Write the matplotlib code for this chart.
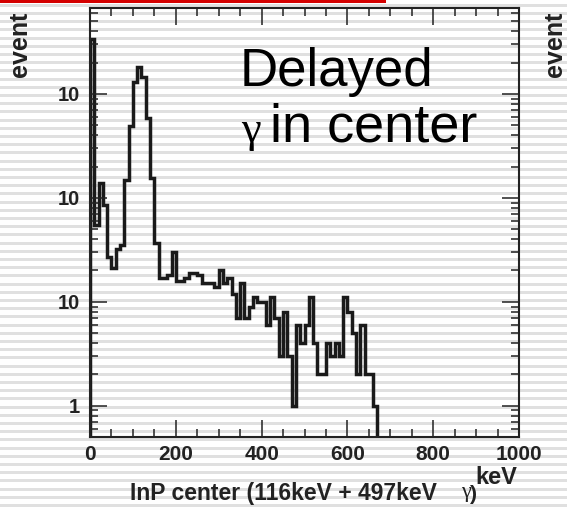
import numpy as np
import matplotlib.pyplot as plt
from matplotlib.ticker import FixedLocator, FixedFormatter, NullFormatter

plt.rcParams['font.family'] = ['Liberation Sans', 'DejaVu Sans']

# 10 keV bins, 0 .. 670 keV
bin_edges = list(range(0, 680, 10))
events = [3400, 55, 140, 86, 27, 21, 32, 35, 150, 490,
          1300, 1820, 1450, 590, 155, 37, 17, 17, 18, 30,
          16, 16, 17, 19, 19, 18, 15, 15, 15, 14,
          20, 15, 17, 12, 7, 15, 7, 9, 11, 10,
          10, 6, 11, 7, 3, 8, 3, 1, 6, 4,
          6, 11, 4, 2, 2, 4, 3, 4, 3, 11,
          8, 5, 2, 6, 2, 2, 1]

x_major = [0, 200, 400, 600, 800, 1000]
x_labels = ["0", "200", "400", "600", "800", "1000"]
y_major = [1, 10, 100, 1000]
y_labels = ["1", "10", "10", "10"]

W, H = 567, 507
def fx(px):
    return px / W
def fy(py):
    return 1 - py / H

fig = plt.figure(figsize=(W / 100, H / 100), dpi=100)

# striped slide background
bg = fig.add_axes([0, 0, 1, 1], zorder=-1)
bg.set_xlim(0, W)
bg.set_ylim(H, 0)
bg.axis('off')
for y0 in np.arange(3.8, H, 8.2):
    bg.axhspan(y0, y0 + 3.0, color='#e0e0e0', lw=0)
bg.axhspan(0, 3, xmin=0, xmax=386 / W, color='#d40000', lw=0)

ax = fig.add_axes([fx(90), fy(437), (519 - 90) / W, (437 - 8) / H])
ax.patch.set_alpha(0)
ax.stairs(events, bin_edges, baseline=0.1, color='#1a1a1a', lw=2.5)
ax.set_yscale('log')
ax.set_xlim(0, 1000)
ax.set_ylim(0.5, 6700)

ax.xaxis.set_major_locator(FixedLocator(x_major))
ax.xaxis.set_major_formatter(FixedFormatter(x_labels))
ax.xaxis.set_minor_locator(FixedLocator(np.arange(0, 1001, 50)))
ax.yaxis.set_major_locator(FixedLocator(y_major))
ax.yaxis.set_major_formatter(FixedFormatter(y_labels))
minors = [m * 10.0 ** d for d in range(-1, 4) for m in range(2, 10)]
ax.yaxis.set_minor_locator(FixedLocator(minors))
ax.yaxis.set_minor_formatter(NullFormatter())

ax.tick_params(which='both', direction='in', top=True, right=True, color='#222222')
ax.tick_params(which='major', length=12, width=1.1)
ax.tick_params(which='minor', length=5.8, width=1.1)
ax.tick_params(axis='x', which='major', pad=6, labelsize=15)
ax.tick_params(axis='y', which='major', pad=7, labelsize=14.5)
for lab in ax.get_xticklabels() + ax.get_yticklabels():
    lab.set_fontweight('bold')
    lab.set_color('#222222')
for s in ax.spines.values():
    s.set_linewidth(1.5)
    s.set_color('#222222')

ax.text(fx(240), fy(86), "Delayed", transform=fig.transFigure,
        fontsize=38, color='black', va='baseline', ha='left')
ax.text(fx(241), fy(142), "\u03b3", transform=fig.transFigure,
        fontsize=32, family='Liberation Serif', va='baseline', ha='left')
ax.text(fx(270), fy(142), "in center", transform=fig.transFigure,
        fontsize=39, color='black', va='baseline', ha='left')

fig.text(fx(20), fy(44), "event", rotation=90, fontsize=18, fontweight='bold',
         color='#222222', ha='center', va='center')
fig.text(fx(555), fy(44), "event", rotation=90, fontsize=18, fontweight='bold',
         color='#222222', ha='center', va='center')
fig.text(fx(496), fy(484), "keV", fontsize=17, fontweight='bold',
         color='#222222', ha='center', va='baseline')
fig.text(fx(130), fy(500), "InP center (116keV + 497keV", fontsize=16.5,
         fontweight='bold', color='#222222', ha='left', va='baseline')
fig.text(fx(461), fy(497), "\u03b3", fontsize=16, family='Liberation Serif',
         color='#222222', ha='left', va='baseline')
fig.text(fx(470), fy(500), ")", fontsize=15, fontweight='bold',
         color='#222222', ha='left', va='baseline')

fig.savefig("out.png", dpi=100)
